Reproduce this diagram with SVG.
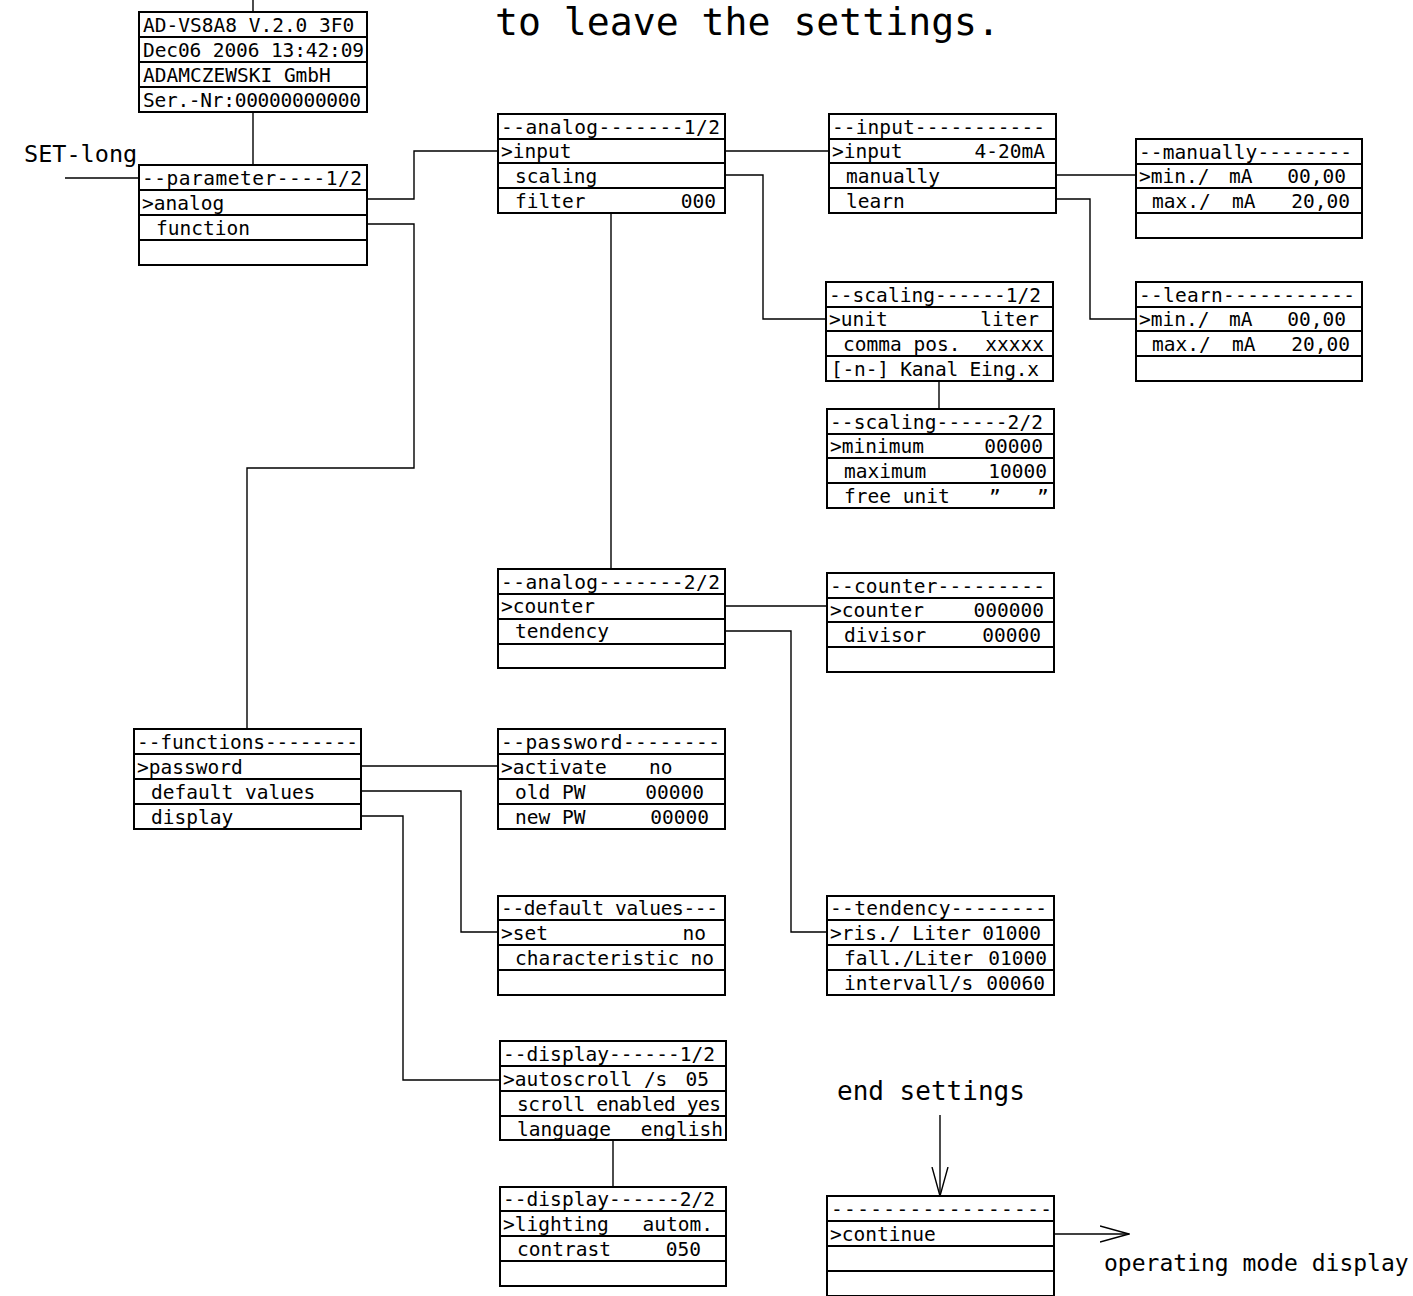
<svg xmlns="http://www.w3.org/2000/svg" width="1413" height="1296" viewBox="0 0 1413 1296">
<defs>
<style>
.bx{fill:#fff;stroke:#000;stroke-width:2}
.rl{fill:none;stroke:#000;stroke-width:2}
.cn{fill:none;stroke:#000;stroke-width:1.4}
.t{font-family:"DejaVu Sans Mono","Liberation Mono",monospace;font-size:19.5px;fill:#000;white-space:pre}
.e{text-anchor:end}
.big{font-family:"DejaVu Sans Mono","Liberation Mono",monospace;fill:#000}
</style>
<marker id="ah" viewBox="0 0 30 20" refX="29" refY="10" markerWidth="30" markerHeight="20" markerUnits="userSpaceOnUse" orient="auto">
<path d="M0,2 L29,10 L0,18" fill="none" stroke="#000" stroke-width="1.4"/>
</marker>
</defs>
<rect width="1413" height="1296" fill="#fff"/>

<text class="big" x="495" y="35" font-size="37" textLength="505" lengthAdjust="spacingAndGlyphs">to leave the settings.</text>
<text class="big" x="24" y="162" font-size="23.5">SET-long</text>
<text class="big" x="837" y="1100" font-size="26">end settings</text>
<text class="big" x="1104" y="1271" font-size="23">operating mode display</text>

<g id="connectors">
<path class="cn" d="M253,0 V12"/>
<path class="cn" d="M253,112 V165"/>
<path class="cn" d="M65,178 H139"/>
<path class="cn" d="M367,199 H414 V151 H498"/>
<path class="cn" d="M367,224 H414 V468 H247 V729"/>
<path class="cn" d="M725,151 H829"/>
<path class="cn" d="M725,175 H763 V319 H826"/>
<path class="cn" d="M611,213 V569"/>
<path class="cn" d="M1056,175 H1136"/>
<path class="cn" d="M1056,199 H1090 V319 H1136"/>
<path class="cn" d="M939,381 V409"/>
<path class="cn" d="M725,606 H827"/>
<path class="cn" d="M725,631 H791 V932 H827"/>
<path class="cn" d="M361,766 H498"/>
<path class="cn" d="M361,791 H461 V932 H498"/>
<path class="cn" d="M361,816 H403 V1080 H500"/>
<path class="cn" d="M613,1140 V1187"/>
<path class="cn" d="M940,1115 V1196" marker-end="url(#ah)"/>
<path class="cn" d="M1054,1234 H1129" marker-end="url(#ah)"/>
</g>

<g id="info">
<rect class="bx" x="139" y="12" width="228" height="100"/>
<path class="rl" d="M139,37 H367 M139,62 H367 M139,87 H367"/>
<text class="t" x="143" y="32">AD-VS8A8 V.2.0 3F0</text>
<text class="t" x="143" y="57" textLength="221">Dec06 2006 13:42:09</text>
<text class="t" x="143" y="82">ADAMCZEWSKI GmbH</text>
<text class="t" x="143" y="107" textLength="218">Ser.-Nr:00000000000</text>
</g>

<g id="parameter">
<rect class="bx" x="139" y="165" width="228" height="100"/>
<path class="rl" d="M139,190 H367 M139,215 H367 M139,240 H367"/>
<text class="t" x="142" y="185" textLength="220">--parameter----1/2</text>
<text class="t" x="142" y="210">&gt;analog</text>
<text class="t" x="156" y="235">function</text>
</g>

<g id="analog1">
<rect class="bx" x="498" y="114" width="227" height="99"/>
<path class="rl" d="M498,139 H725 M498,163 H725 M498,188 H725"/>
<text class="t" x="501" y="134" textLength="219">--analog-------1/2</text>
<text class="t" x="501" y="158">&gt;input</text>
<text class="t" x="515" y="183">scaling</text>
<text class="t" x="515" y="208">filter</text>
<text class="t e" x="716" y="208">000</text>
</g>

<g id="input">
<rect class="bx" x="829" y="114" width="227" height="99"/>
<path class="rl" d="M829,139 H1056 M829,163 H1056 M829,188 H1056"/>
<text class="t" x="832" y="134" textLength="213">--input-----------</text>
<text class="t" x="832" y="158">&gt;input</text>
<text class="t e" x="1045" y="158">4-20mA</text>
<text class="t" x="846" y="183">manually</text>
<text class="t" x="846" y="208">learn</text>
</g>

<g id="manually">
<rect class="bx" x="1136" y="139" width="226" height="99"/>
<path class="rl" d="M1136,164 H1362 M1136,188 H1362 M1136,213 H1362"/>
<text class="t" x="1139" y="159" textLength="213">--manually--------</text>
<text class="t" x="1139" y="183">&gt;min./</text>
<text class="t" x="1229" y="183">mA</text>
<text class="t e" x="1346" y="183">00,00</text>
<text class="t" x="1152" y="208">max./</text>
<text class="t" x="1232" y="208">mA</text>
<text class="t e" x="1350" y="208">20,00</text>
</g>

<g id="learn">
<rect class="bx" x="1136" y="282" width="226" height="99"/>
<path class="rl" d="M1136,307 H1362 M1136,331 H1362 M1136,356 H1362"/>
<text class="t" x="1139" y="302" textLength="216">--learn-----------</text>
<text class="t" x="1139" y="326">&gt;min./</text>
<text class="t" x="1229" y="326">mA</text>
<text class="t e" x="1346" y="326">00,00</text>
<text class="t" x="1152" y="351">max./</text>
<text class="t" x="1232" y="351">mA</text>
<text class="t e" x="1350" y="351">20,00</text>
</g>

<g id="scaling1">
<rect class="bx" x="826" y="282" width="227" height="99"/>
<path class="rl" d="M826,307 H1053 M826,331 H1053 M826,356 H1053"/>
<text class="t" x="829" y="302" textLength="212">--scaling------1/2</text>
<text class="t" x="829" y="326">&gt;unit</text>
<text class="t e" x="1039" y="326">liter</text>
<text class="t" x="843" y="351">comma pos.</text>
<text class="t e" x="1044" y="351">xxxxx</text>
<text class="t" x="831" y="376" textLength="208">[-n-] Kanal Eing.x</text>
</g>

<g id="scaling2">
<rect class="bx" x="827" y="409" width="227" height="99"/>
<path class="rl" d="M827,434 H1054 M827,458 H1054 M827,483 H1054"/>
<text class="t" x="830" y="429" textLength="213">--scaling------2/2</text>
<text class="t" x="830" y="453">&gt;minimum</text>
<text class="t e" x="1043" y="453">00000</text>
<text class="t" x="844" y="478">maximum</text>
<text class="t e" x="1047" y="478">10000</text>
<text class="t" x="844" y="503">free unit</text>
<text class="t" x="989" y="504" font-size="17">”</text>
<text class="t" x="1037" y="504" font-size="17">”</text>
</g>

<g id="analog2">
<rect class="bx" x="498" y="569" width="227" height="99"/>
<path class="rl" d="M498,594 H725 M498,619 H725 M498,644 H725"/>
<text class="t" x="501" y="589" textLength="219">--analog-------2/2</text>
<text class="t" x="501" y="613">&gt;counter</text>
<text class="t" x="515" y="638">tendency</text>
</g>

<g id="counter">
<rect class="bx" x="827" y="573" width="227" height="99"/>
<path class="rl" d="M827,598 H1054 M827,622 H1054 M827,647 H1054"/>
<text class="t" x="830" y="593" textLength="215">--counter---------</text>
<text class="t" x="830" y="617">&gt;counter</text>
<text class="t e" x="1044" y="617">000000</text>
<text class="t" x="844" y="642">divisor</text>
<text class="t e" x="1041" y="642">00000</text>
</g>

<g id="functions">
<rect class="bx" x="134" y="729" width="227" height="100"/>
<path class="rl" d="M134,754 H361 M134,779 H361 M134,804 H361"/>
<text class="t" x="137" y="749" textLength="221">--functions--------</text>
<text class="t" x="137" y="774">&gt;password</text>
<text class="t" x="151" y="799">default values</text>
<text class="t" x="151" y="824">display</text>
</g>

<g id="password">
<rect class="bx" x="498" y="729" width="227" height="100"/>
<path class="rl" d="M498,754 H725 M498,779 H725 M498,804 H725"/>
<text class="t" x="501" y="749" textLength="219">--password--------</text>
<text class="t" x="501" y="774">&gt;activate</text>
<text class="t" x="649" y="774">no</text>
<text class="t" x="515" y="799">old PW</text>
<text class="t e" x="704" y="799">00000</text>
<text class="t" x="515" y="824">new PW</text>
<text class="t e" x="709" y="824">00000</text>
</g>

<g id="defaults">
<rect class="bx" x="498" y="896" width="227" height="99"/>
<path class="rl" d="M498,920 H725 M498,945 H725 M498,970 H725"/>
<text class="t" x="501" y="915" textLength="217">--default values---</text>
<text class="t" x="501" y="940">&gt;set</text>
<text class="t e" x="706" y="940">no</text>
<text class="t" x="515" y="965">characteristic</text>
<text class="t e" x="714" y="965">no</text>
</g>

<g id="tendency">
<rect class="bx" x="827" y="896" width="227" height="99"/>
<path class="rl" d="M827,920 H1054 M827,945 H1054 M827,970 H1054"/>
<text class="t" x="830" y="915" textLength="217">--tendency--------</text>
<text class="t" x="830" y="940">&gt;ris./ Liter</text>
<text class="t e" x="1041" y="940">01000</text>
<text class="t" x="844" y="965">fall./Liter</text>
<text class="t e" x="1047" y="965">01000</text>
<text class="t" x="844" y="990">intervall/s</text>
<text class="t e" x="1045" y="990">00060</text>
</g>

<g id="display1">
<rect class="bx" x="500" y="1041" width="226" height="99"/>
<path class="rl" d="M500,1066 H726 M500,1091 H726 M500,1116 H726"/>
<text class="t" x="503" y="1061" textLength="212">--display------1/2</text>
<text class="t" x="503" y="1086">&gt;autoscroll /s</text>
<text class="t e" x="709" y="1086">05</text>
<text class="t" x="517" y="1111" textLength="204">scroll enabled yes</text>
<text class="t" x="517" y="1136">language</text>
<text class="t e" x="723" y="1136">english</text>
</g>

<g id="display2">
<rect class="bx" x="500" y="1187" width="226" height="99"/>
<path class="rl" d="M500,1211 H726 M500,1236 H726 M500,1261 H726"/>
<text class="t" x="503" y="1206" textLength="212">--display------2/2</text>
<text class="t" x="503" y="1231">&gt;lighting</text>
<text class="t e" x="713" y="1231">autom.</text>
<text class="t" x="517" y="1256">contrast</text>
<text class="t e" x="701" y="1256">050</text>
</g>

<g id="end">
<rect class="bx" x="827" y="1196" width="227" height="100"/>
<path class="rl" d="M827,1221 H1054 M827,1246 H1054 M827,1271 H1054"/>
<text class="t" x="831" y="1216" textLength="221">-----------------</text>
<text class="t" x="830" y="1241" font-size="17">&gt;continue</text>
</g>
</svg>
